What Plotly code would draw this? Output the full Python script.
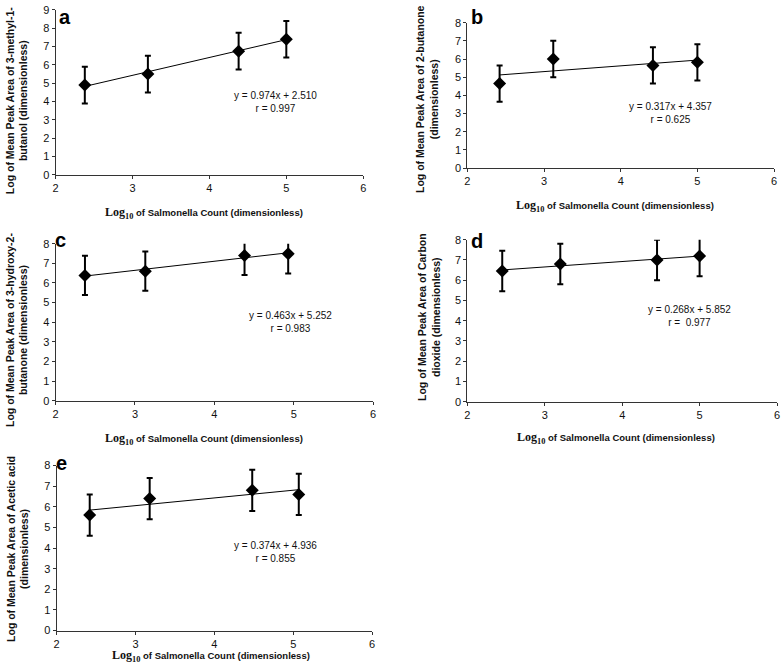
import plotly.graph_objects as go

W, H = 782, 668

# ---- data ----
panel_letters = ["a", "b", "c", "d", "e"]
y_titles = [
    "Log of Mean Peak Area of 3-methyl-1-<br>butanol (dimensionless)",
    "Log of Mean Peak Area of 2-butanone<br>(dimensionless)",
    "Log of Mean Peak Area of 3-hydroxy-2-<br>butanone (dimensionless)",
    "Log of Mean Peak Area of Carbon<br>dioxide (dimensionless)",
    "Log of Mean Peak Area of Acetic acid<br>(dimensionless)",
]
x_a = [2.38, 3.20, 4.38, 5.00]
y_a = [4.90, 5.50, 6.75, 7.40]
x_b = [2.42, 3.12, 4.42, 5.00]
y_b = [4.65, 6.00, 5.65, 5.82]
x_c = [2.37, 3.13, 4.38, 4.93]
y_c = [6.38, 6.60, 7.40, 7.48]
x_d = [2.45, 3.20, 4.45, 5.00]
y_d = [6.45, 6.80, 7.00, 7.20]
x_e = [2.42, 3.18, 4.48, 5.07]
y_e = [5.60, 6.40, 6.80, 6.60]
err = [1.0, 1.0, 1.0, 1.0]
slopes = [0.974, 0.317, 0.463, 0.268, 0.374]
intercepts = [2.510, 4.357, 5.252, 5.852, 4.936]
r_values = ["0.997", "0.625", "0.983", " 0.977", "0.855"]
y_max = [9, 8, 8, 8, 8]
x_ticks = [2, 3, 4, 5, 6]

xs = [x_a, x_b, x_c, x_d, x_e]
ys = [y_a, y_b, y_c, y_d, y_e]

# ---- layout geometry (pixels: left, right, top, bottom of plot area) ----
boxes = [
    (53, 363, 4, 172),
    (468, 777, 17, 165),
    (53, 373, 242, 402),
    (468, 780, 238, 403),
    (54, 372, 468, 636),
]
eq_pos = [(4.86, 4.0), (4.65, 3.05), (4.96, 4.0), (4.87, 4.22), (4.77, 3.81)]
ytitle_px = [(14, 96), (428, 95), (14, 330), (430, 317), (15, 553)]
xtitle_px = [(203, 211), (617, 204), (203, 441), (618, 440), (210, 662)]
letter_px = [(62, 11), (478, 11), (58, 238), (478, 239), (59, 465)]

fig = go.Figure()
FONT = "Liberation Sans, Arial, sans-serif"
xlabel = ("<span style='font-family:Liberation Serif, Times New Roman, serif;font-size:12px'>"
          "Log<sub>10</sub></span> of Salmonella Count (dimensionless)")

annotations = []
for i in range(5):
    n = "" if i == 0 else str(i + 1)
    xa, ya = "x" + n, "y" + n
    l, r, t, b = boxes[i]
    fig.layout["xaxis" + n] = dict(
        domain=[l / W, r / W], anchor=ya, range=[2, 6], tickvals=x_ticks,
        showline=True, linecolor="#333", linewidth=1, ticks="outside", ticklen=3,
        tickcolor="#333", showgrid=False, zeroline=False,
        tickfont=dict(size=11, family=FONT, color="#111"),
    )
    fig.layout["yaxis" + n] = dict(
        domain=[1 - b / H, 1 - t / H], anchor=xa, range=[0, y_max[i]], dtick=1,
        showline=True, linecolor="#333", linewidth=1, ticks="outside", ticklen=3,
        tickcolor="#333", showgrid=False, zeroline=False,
        tickfont=dict(size=11, family=FONT, color="#111"),
    )
    x0, x1 = xs[i][0], xs[i][-1]
    fig.add_trace(go.Scatter(
        x=[x0, x1], y=[slopes[i] * x0 + intercepts[i], slopes[i] * x1 + intercepts[i]],
        mode="lines", line=dict(color="black", width=1), xaxis=xa, yaxis=ya,
        showlegend=False, hoverinfo="skip"))
    fig.add_trace(go.Scatter(
        x=xs[i], y=ys[i], mode="markers",
        marker=dict(symbol="diamond", size=10, color="black"),
        error_y=dict(type="data", array=err, color="black", thickness=2, width=3),
        xaxis=xa, yaxis=ya, showlegend=False, cliponaxis=True))
    annotations.append(dict(
        x=eq_pos[i][0], y=eq_pos[i][1], xref=xa, yref=ya, showarrow=False,
        xanchor="center", yanchor="middle",
        text=f"y = {slopes[i]:.3f}x + {intercepts[i]:.3f}<br>r = {r_values[i]}",
        font=dict(size=10, family=FONT, color="#111"), align="center"))
    annotations.append(dict(
        x=letter_px[i][0] / W, y=1 - letter_px[i][1] / H, xref="paper", yref="paper",
        showarrow=False, xanchor="center", yanchor="middle",
        text="<b>" + panel_letters[i] + "</b>",
        font=dict(size=20, family=FONT, color="black")))
    annotations.append(dict(
        x=ytitle_px[i][0] / W, y=1 - ytitle_px[i][1] / H, xref="paper", yref="paper",
        xanchor="center", yanchor="middle",
        showarrow=False, textangle=-90, text="<b>" + y_titles[i] + "</b>",
        font=dict(size=10.5, family=FONT, color="#111"), align="center"))
    annotations.append(dict(
        x=xtitle_px[i][0] / W, y=1 - xtitle_px[i][1] / H, xref="paper", yref="paper",
        xanchor="center", yanchor="middle",
        showarrow=False, text="<b>" + xlabel + "</b>",
        font=dict(size=9.5, family=FONT, color="#111")))

fig.update_layout(
    width=W, height=H, margin=dict(l=0, r=0, t=0, b=0),
    paper_bgcolor="white", plot_bgcolor="white", annotations=annotations,
)
fig.write_html(
    "out.html",
    config={"displayModeBar": False},
    post_script=("document.documentElement.style.margin='0';"
                 "document.body.style.margin='0';document.body.style.padding='0';"
                 "document.documentElement.style.overflow='hidden';"
                 "document.body.style.overflow='hidden';"),
)
